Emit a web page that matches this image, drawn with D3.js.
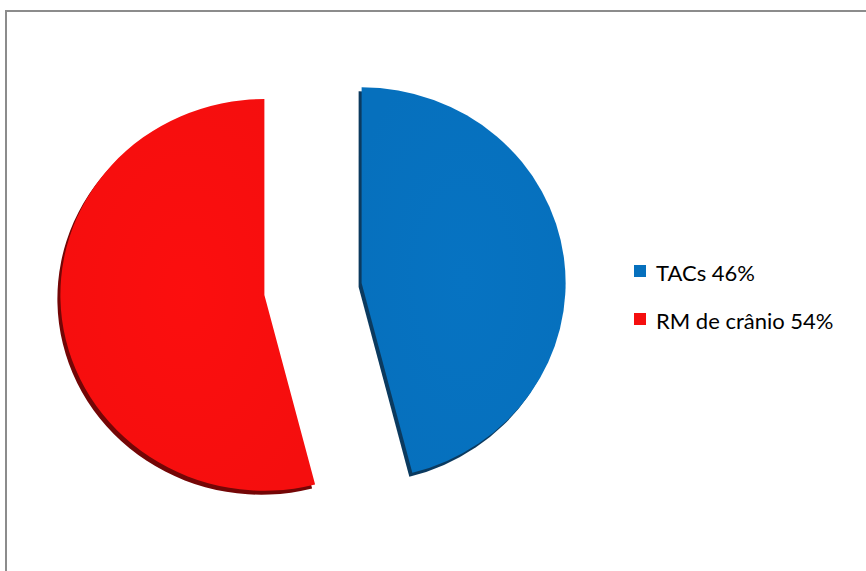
<!DOCTYPE html>
<html>
<head>
<meta charset="utf-8">
<script src="https://cdn.jsdelivr.net/npm/d3@7"></script>
<style>
  body { margin: 0; background: #fff; }
  svg { display: block; }
</style>
</head>
<body>
<svg id="chart" width="866" height="571"></svg>
<script>
const categories = ['TACs', 'RM de crânio'];
const values = [46, 54];
const colors = ['#0670BD', '#F50E0E'];
const shadowColors = ['#0B3A5F', '#740606'];

const width = 866;
const height = 571;
const svg = d3.select('svg#chart');

// frame
svg.append('rect')
  .attr('x', 6)
  .attr('y', 11)
  .attr('width', width)
  .attr('height', height)
  .attr('fill', 'none')
  .attr('stroke', '#8c8c8c')
  .attr('stroke-width', 2);

const cx = 313;
const cy = 289;
const radius = 204;
const tilt = 0.96; // slight vertical squash, like the 3d view
const explode = 49;

const pie = d3.pie().sort(null).value(d => d);
const arc = d3.arc().innerRadius(0).outerRadius(radius);
const slices = pie(values);

const defs = svg.append('defs');
slices.forEach((d, i) => {
  const g = defs.append('radialGradient')
    .attr('id', 'grad' + i)
    .attr('cx', '50%').attr('cy', '50%').attr('r', '60%');
  g.append('stop').attr('offset', '0%').attr('stop-color', d3.color(colors[i]).brighter(0.08));
  g.append('stop').attr('offset', '100%').attr('stop-color', colors[i]);
});

const pieG = svg.append('g').attr('transform', `translate(${cx},${cy})`);

const sliceG = pieG.selectAll('g.slice').data(slices).enter()
  .append('g')
  .attr('class', 'slice')
  .attr('transform', d => {
    const mid = (d.startAngle + d.endAngle) / 2;
    return `translate(${explode * Math.sin(mid)},${-explode * Math.cos(mid) * tilt})`;
  });

// dark extruded edge
sliceG.append('path')
  .attr('fill', (d, i) => shadowColors[i])
  .attr('transform', `translate(-3,4) scale(1,${tilt})`)
  .attr('d', arc);

sliceG.append('path')
  .attr('fill', (d, i) => `url(#grad${i})`)
  .attr('transform', `scale(1,${tilt})`)
  .attr('d', arc);

// legend
const legend = svg.append('g').attr('transform', 'translate(634,265)');
const item = legend.selectAll('g.item').data(categories).enter()
  .append('g')
  .attr('class', 'item')
  .attr('transform', (d, i) => `translate(0,${i * 48})`);

item.append('rect')
  .attr('width', 12)
  .attr('height', 12)
  .attr('fill', (d, i) => colors[i]);

item.append('text')
  .attr('x', 22)
  .attr('y', 16)
  .attr('font-family', 'Lato, "Open Sans", sans-serif')
  .attr('font-size', 22)
  .attr('fill', '#000')
  .text((d, i) => `${d} ${values[i]}%`);
</script>
</body>
</html>
